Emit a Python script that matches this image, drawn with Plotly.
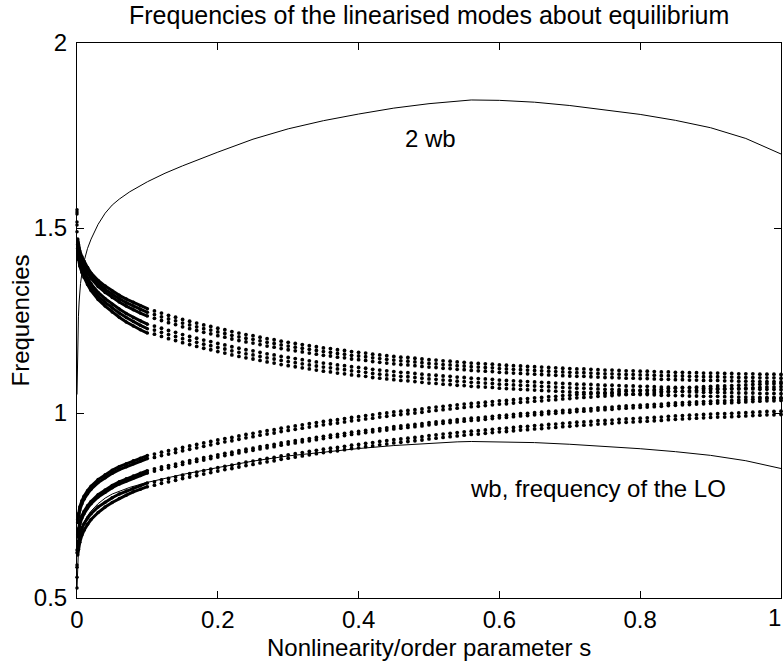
import plotly.graph_objects as go

# ---------------- data ----------------
x_ticks = [0, 0.2, 0.4, 0.6, 0.8, 1]
x_tick_labels = ["0", "0.2", "0.4", "0.6", "0.8", "1"]
y_ticks = [0.5, 1, 1.5, 2]
y_tick_labels = ["0.5", "1", "1.5", "2"]

# dense sampling near s = 0
s_dense = [0, 0.001, 0.002, 0.004, 0.007, 0.01, 0.015, 0.02, 0.03, 0.04, 0.05, 0.06, 0.07, 0.08, 0.09, 0.1]
# coarse sampling, step 0.01 from 0.11 to 1.00
s_coarse = [round(0.11 + 0.01 * i, 2) for i in range(90)]

# upper branch, dense part
U1_dense = [1.549, 1.470, 1.455, 1.438, 1.422, 1.410, 1.393, 1.378, 1.358, 1.343, 1.330, 1.318, 1.308, 1.299, 1.290, 1.282]
U2_dense = [1.543, 1.462, 1.448, 1.431, 1.415, 1.403, 1.386, 1.371, 1.350, 1.334, 1.321, 1.309, 1.298, 1.289, 1.280, 1.272]
U3_dense = [1.538, 1.456, 1.442, 1.425, 1.409, 1.396, 1.379, 1.364, 1.342, 1.326, 1.312, 1.300, 1.289, 1.279, 1.270, 1.262]
U4_dense = [1.516, 1.445, 1.430, 1.413, 1.396, 1.383, 1.365, 1.349, 1.326, 1.309, 1.294, 1.281, 1.269, 1.258, 1.249, 1.240]
U5_dense = [1.508, 1.438, 1.423, 1.405, 1.388, 1.375, 1.356, 1.340, 1.316, 1.299, 1.284, 1.270, 1.258, 1.247, 1.237, 1.228]
U6_dense = [1.490, 1.430, 1.415, 1.397, 1.380, 1.366, 1.347, 1.331, 1.307, 1.289, 1.273, 1.259, 1.246, 1.235, 1.225, 1.216]

# lower branch, dense part
L1_dense = [0.630, 0.712, 0.728, 0.746, 0.763, 0.775, 0.790, 0.802, 0.820, 0.833, 0.845, 0.855, 0.863, 0.871, 0.878, 0.885]
L2_dense = [0.622, 0.704, 0.720, 0.738, 0.755, 0.767, 0.782, 0.794, 0.812, 0.825, 0.837, 0.847, 0.855, 0.863, 0.870, 0.877]
L3_dense = [0.589, 0.671, 0.687, 0.705, 0.722, 0.734, 0.749, 0.761, 0.779, 0.792, 0.804, 0.814, 0.822, 0.830, 0.837, 0.844]
L4_dense = [0.583, 0.665, 0.681, 0.699, 0.716, 0.728, 0.743, 0.755, 0.773, 0.786, 0.798, 0.808, 0.816, 0.824, 0.831, 0.838]
L5_dense = [0.556, 0.638, 0.654, 0.672, 0.689, 0.701, 0.716, 0.728, 0.746, 0.759, 0.771, 0.781, 0.789, 0.797, 0.804, 0.811]
L6_dense = [0.527, 0.616, 0.632, 0.651, 0.670, 0.683, 0.699, 0.712, 0.731, 0.746, 0.758, 0.769, 0.778, 0.787, 0.794, 0.801]

# upper branch, coarse part
U1_coarse = [1.276, 1.270, 1.264, 1.259, 1.253, 1.248, 1.243, 1.238, 1.234, 1.229,
             1.225, 1.220, 1.216, 1.212, 1.209, 1.205, 1.201, 1.198, 1.194, 1.191,
             1.188, 1.185, 1.182, 1.179, 1.176, 1.174, 1.171, 1.169, 1.166, 1.164,
             1.162, 1.159, 1.157, 1.155, 1.153, 1.151, 1.150, 1.148, 1.146, 1.144,
             1.143, 1.141, 1.140, 1.138, 1.137, 1.135, 1.134, 1.133, 1.132, 1.130,
             1.129, 1.128, 1.127, 1.126, 1.125, 1.124, 1.123, 1.122, 1.121, 1.120,
             1.119, 1.119, 1.118, 1.117, 1.116, 1.116, 1.115, 1.114, 1.114, 1.113,
             1.113, 1.112, 1.111, 1.111, 1.110, 1.110, 1.109, 1.109, 1.108, 1.108,
             1.108, 1.107, 1.107, 1.106, 1.106, 1.106, 1.105, 1.105, 1.105, 1.104]
U2_coarse = [1.266, 1.260, 1.254, 1.249, 1.243, 1.238, 1.233, 1.228, 1.224, 1.219,
             1.215, 1.210, 1.206, 1.202, 1.199, 1.195, 1.191, 1.188, 1.184, 1.181,
             1.178, 1.175, 1.172, 1.169, 1.166, 1.164, 1.161, 1.159, 1.156, 1.154,
             1.152, 1.149, 1.147, 1.145, 1.143, 1.141, 1.140, 1.138, 1.136, 1.134,
             1.133, 1.131, 1.130, 1.128, 1.127, 1.125, 1.124, 1.123, 1.122, 1.120,
             1.119, 1.118, 1.117, 1.116, 1.115, 1.114, 1.113, 1.112, 1.111, 1.110,
             1.109, 1.109, 1.108, 1.107, 1.106, 1.106, 1.105, 1.104, 1.104, 1.103,
             1.103, 1.102, 1.101, 1.101, 1.100, 1.100, 1.099, 1.099, 1.098, 1.098,
             1.098, 1.097, 1.097, 1.096, 1.096, 1.096, 1.095, 1.095, 1.095, 1.094]
U3_coarse = [1.256, 1.250, 1.244, 1.239, 1.233, 1.228, 1.223, 1.218, 1.214, 1.209,
             1.205, 1.200, 1.196, 1.192, 1.189, 1.185, 1.181, 1.178, 1.174, 1.171,
             1.168, 1.165, 1.162, 1.159, 1.156, 1.154, 1.151, 1.149, 1.146, 1.144,
             1.142, 1.139, 1.137, 1.135, 1.133, 1.131, 1.130, 1.128, 1.126, 1.124,
             1.123, 1.121, 1.120, 1.118, 1.117, 1.115, 1.114, 1.113, 1.112, 1.110,
             1.109, 1.108, 1.107, 1.106, 1.105, 1.104, 1.103, 1.102, 1.101, 1.100,
             1.099, 1.099, 1.098, 1.097, 1.096, 1.096, 1.095, 1.094, 1.094, 1.093,
             1.093, 1.092, 1.091, 1.091, 1.090, 1.090, 1.089, 1.089, 1.088, 1.088,
             1.088, 1.087, 1.087, 1.086, 1.086, 1.086, 1.085, 1.085, 1.085, 1.084]
U4_coarse = [1.235, 1.229, 1.223, 1.218, 1.212, 1.207, 1.202, 1.197, 1.193, 1.188,
             1.184, 1.179, 1.175, 1.171, 1.168, 1.164, 1.160, 1.157, 1.153, 1.150,
             1.147, 1.144, 1.141, 1.138, 1.135, 1.133, 1.130, 1.128, 1.125, 1.123,
             1.121, 1.118, 1.116, 1.114, 1.112, 1.110, 1.109, 1.107, 1.105, 1.103,
             1.102, 1.100, 1.099, 1.097, 1.096, 1.094, 1.093, 1.092, 1.091, 1.089,
             1.088, 1.087, 1.086, 1.085, 1.084, 1.083, 1.082, 1.081, 1.080, 1.079,
             1.078, 1.078, 1.077, 1.076, 1.075, 1.075, 1.074, 1.073, 1.073, 1.072,
             1.072, 1.071, 1.070, 1.070, 1.069, 1.069, 1.068, 1.068, 1.067, 1.067,
             1.067, 1.066, 1.066, 1.065, 1.065, 1.065, 1.064, 1.064, 1.064, 1.063]
U5_coarse = [1.224, 1.218, 1.212, 1.207, 1.201, 1.196, 1.191, 1.186, 1.182, 1.177,
             1.173, 1.168, 1.164, 1.160, 1.157, 1.153, 1.149, 1.146, 1.142, 1.139,
             1.136, 1.133, 1.130, 1.127, 1.124, 1.122, 1.119, 1.117, 1.114, 1.112,
             1.110, 1.107, 1.105, 1.103, 1.101, 1.099, 1.098, 1.096, 1.094, 1.092,
             1.091, 1.089, 1.088, 1.086, 1.085, 1.083, 1.082, 1.081, 1.080, 1.078,
             1.077, 1.076, 1.075, 1.074, 1.073, 1.072, 1.071, 1.070, 1.069, 1.068,
             1.067, 1.067, 1.066, 1.065, 1.064, 1.064, 1.063, 1.062, 1.062, 1.061,
             1.061, 1.060, 1.059, 1.059, 1.058, 1.058, 1.057, 1.057, 1.056, 1.056,
             1.056, 1.055, 1.055, 1.054, 1.054, 1.054, 1.053, 1.053, 1.053, 1.052]
U6_coarse = [1.213, 1.207, 1.201, 1.196, 1.190, 1.185, 1.180, 1.175, 1.171, 1.166,
             1.162, 1.157, 1.153, 1.149, 1.146, 1.142, 1.138, 1.135, 1.131, 1.128,
             1.125, 1.122, 1.119, 1.116, 1.113, 1.111, 1.108, 1.106, 1.103, 1.101,
             1.099, 1.096, 1.094, 1.092, 1.090, 1.088, 1.087, 1.085, 1.083, 1.081,
             1.080, 1.078, 1.077, 1.075, 1.074, 1.072, 1.071, 1.070, 1.069, 1.067,
             1.066, 1.065, 1.064, 1.063, 1.062, 1.061, 1.060, 1.059, 1.058, 1.057,
             1.056, 1.056, 1.055, 1.054, 1.053, 1.053, 1.052, 1.051, 1.051, 1.050,
             1.050, 1.049, 1.048, 1.048, 1.047, 1.047, 1.046, 1.046, 1.045, 1.045,
             1.045, 1.044, 1.044, 1.043, 1.043, 1.043, 1.042, 1.042, 1.042, 1.041]

# lower branch, coarse part
L1_coarse = [0.889, 0.894, 0.898, 0.902, 0.907, 0.911, 0.915, 0.919, 0.923, 0.927,
             0.931, 0.934, 0.938, 0.942, 0.945, 0.949, 0.952, 0.955, 0.959, 0.962,
             0.965, 0.968, 0.971, 0.974, 0.977, 0.980, 0.982, 0.985, 0.988, 0.990,
             0.993, 0.995, 0.998, 1.000, 1.003, 1.005, 1.007, 1.009, 1.011, 1.014,
             1.016, 1.018, 1.020, 1.022, 1.024, 1.026, 1.027, 1.029, 1.031, 1.033,
             1.034, 1.036, 1.038, 1.039, 1.041, 1.042, 1.044, 1.045, 1.047, 1.048,
             1.050, 1.051, 1.052, 1.054, 1.055, 1.056, 1.058, 1.059, 1.060, 1.061,
             1.062, 1.063, 1.064, 1.066, 1.067, 1.068, 1.069, 1.070, 1.071, 1.072,
             1.073, 1.073, 1.074, 1.075, 1.076, 1.077, 1.078, 1.079, 1.079, 1.080]
L2_coarse = [0.880, 0.885, 0.889, 0.893, 0.898, 0.902, 0.906, 0.910, 0.914, 0.918,
             0.922, 0.925, 0.929, 0.933, 0.936, 0.940, 0.943, 0.946, 0.950, 0.953,
             0.956, 0.959, 0.962, 0.965, 0.968, 0.971, 0.973, 0.976, 0.979, 0.981,
             0.984, 0.986, 0.989, 0.991, 0.994, 0.996, 0.998, 1.000, 1.002, 1.005,
             1.007, 1.009, 1.011, 1.013, 1.015, 1.017, 1.018, 1.020, 1.022, 1.024,
             1.025, 1.027, 1.029, 1.030, 1.032, 1.033, 1.035, 1.036, 1.038, 1.039,
             1.041, 1.042, 1.043, 1.045, 1.046, 1.047, 1.049, 1.050, 1.051, 1.052,
             1.053, 1.054, 1.055, 1.057, 1.058, 1.059, 1.060, 1.061, 1.062, 1.063,
             1.064, 1.064, 1.065, 1.066, 1.067, 1.068, 1.069, 1.070, 1.070, 1.071]
L3_coarse = [0.849, 0.854, 0.858, 0.862, 0.867, 0.871, 0.875, 0.879, 0.883, 0.887,
             0.891, 0.894, 0.898, 0.902, 0.905, 0.909, 0.912, 0.915, 0.919, 0.922,
             0.925, 0.928, 0.931, 0.934, 0.937, 0.940, 0.942, 0.945, 0.948, 0.950,
             0.953, 0.955, 0.958, 0.960, 0.963, 0.965, 0.967, 0.969, 0.971, 0.974,
             0.976, 0.978, 0.980, 0.982, 0.984, 0.986, 0.987, 0.989, 0.991, 0.993,
             0.994, 0.996, 0.998, 0.999, 1.001, 1.002, 1.004, 1.005, 1.007, 1.008,
             1.010, 1.011, 1.012, 1.014, 1.015, 1.016, 1.018, 1.019, 1.020, 1.021,
             1.022, 1.023, 1.024, 1.026, 1.027, 1.028, 1.029, 1.030, 1.031, 1.032,
             1.033, 1.033, 1.034, 1.035, 1.036, 1.037, 1.038, 1.039, 1.039, 1.040]
L4_coarse = [0.843, 0.848, 0.852, 0.856, 0.861, 0.865, 0.869, 0.873, 0.877, 0.881,
             0.885, 0.888, 0.892, 0.896, 0.899, 0.903, 0.906, 0.909, 0.913, 0.916,
             0.919, 0.922, 0.925, 0.928, 0.931, 0.934, 0.936, 0.939, 0.942, 0.944,
             0.947, 0.949, 0.952, 0.954, 0.957, 0.959, 0.961, 0.963, 0.965, 0.968,
             0.970, 0.972, 0.974, 0.976, 0.978, 0.980, 0.981, 0.983, 0.985, 0.987,
             0.988, 0.990, 0.992, 0.993, 0.995, 0.996, 0.998, 0.999, 1.001, 1.002,
             1.004, 1.005, 1.006, 1.008, 1.009, 1.010, 1.012, 1.013, 1.014, 1.015,
             1.016, 1.017, 1.018, 1.020, 1.021, 1.022, 1.023, 1.024, 1.025, 1.026,
             1.027, 1.027, 1.028, 1.029, 1.030, 1.031, 1.032, 1.033, 1.033, 1.034]
L5_coarse = [0.814, 0.819, 0.823, 0.827, 0.832, 0.836, 0.840, 0.844, 0.848, 0.852,
             0.856, 0.859, 0.863, 0.867, 0.870, 0.874, 0.877, 0.880, 0.884, 0.887,
             0.890, 0.893, 0.896, 0.899, 0.902, 0.905, 0.907, 0.910, 0.913, 0.915,
             0.918, 0.920, 0.923, 0.925, 0.928, 0.930, 0.932, 0.934, 0.936, 0.939,
             0.941, 0.943, 0.945, 0.947, 0.949, 0.951, 0.952, 0.954, 0.956, 0.958,
             0.959, 0.961, 0.963, 0.964, 0.966, 0.967, 0.969, 0.970, 0.972, 0.973,
             0.975, 0.976, 0.977, 0.979, 0.980, 0.981, 0.983, 0.984, 0.985, 0.986,
             0.987, 0.988, 0.989, 0.991, 0.992, 0.993, 0.994, 0.995, 0.996, 0.997,
             0.998, 0.998, 0.999, 1.000, 1.001, 1.002, 1.003, 1.004, 1.004, 1.005]
L6_coarse = [0.805, 0.810, 0.814, 0.818, 0.823, 0.827, 0.831, 0.835, 0.839, 0.843,
             0.847, 0.850, 0.854, 0.858, 0.861, 0.865, 0.868, 0.871, 0.875, 0.878,
             0.881, 0.884, 0.887, 0.890, 0.893, 0.896, 0.898, 0.901, 0.904, 0.906,
             0.909, 0.911, 0.914, 0.916, 0.919, 0.921, 0.923, 0.925, 0.927, 0.930,
             0.932, 0.934, 0.936, 0.938, 0.940, 0.942, 0.943, 0.945, 0.947, 0.949,
             0.950, 0.952, 0.954, 0.955, 0.957, 0.958, 0.960, 0.961, 0.963, 0.964,
             0.966, 0.967, 0.968, 0.970, 0.971, 0.972, 0.974, 0.975, 0.976, 0.977,
             0.978, 0.979, 0.980, 0.982, 0.983, 0.984, 0.985, 0.986, 0.987, 0.988,
             0.989, 0.989, 0.990, 0.991, 0.992, 0.993, 0.994, 0.995, 0.995, 0.996]

# solid curves: wb and 2 wb
s_wb = [0, 0.0005, 0.001, 0.002, 0.003, 0.005, 0.0075, 0.01, 0.015, 0.02, 0.03, 0.04, 0.05, 0.06,
        0.075, 0.1, 0.125, 0.15, 0.2, 0.25, 0.3, 0.35, 0.4, 0.45, 0.5, 0.54, 0.56, 0.6, 0.65,
        0.7, 0.75, 0.8, 0.85, 0.9, 0.95, 1.0]
two_wb = [1.05, 1.16, 1.20, 1.26, 1.30, 1.35, 1.385, 1.41, 1.445, 1.47, 1.51, 1.54, 1.562, 1.578,
          1.598, 1.625, 1.648, 1.668, 1.705, 1.740, 1.768, 1.790, 1.808, 1.824, 1.836, 1.844, 1.846,
          1.845, 1.840, 1.831, 1.820, 1.807, 1.791, 1.771, 1.742, 1.700]
wb = [0.525, 0.58, 0.60, 0.63, 0.65, 0.675, 0.6925, 0.705, 0.7225, 0.735, 0.755, 0.77, 0.781, 0.789,
      0.799, 0.8125, 0.824, 0.834, 0.8525, 0.870, 0.884, 0.895, 0.904, 0.912, 0.918, 0.922, 0.923,
      0.9225, 0.920, 0.9155, 0.910, 0.9035, 0.8955, 0.8855, 0.871, 0.850]

label_2wb = "2 wb"
label_wb = "wb, frequency of the LO"
title_text = "Frequencies of the linearised modes about equilibrium"
x_title = "Nonlinearity/order parameter s"
y_title = "Frequencies"

# ---------------- figure ----------------
FONT = "Liberation Sans, Arial, Helvetica, sans-serif"
BLACK = "#000000"

dense_sets = [U1_dense, U2_dense, U3_dense, U4_dense, U5_dense, U6_dense,
              L1_dense, L2_dense, L3_dense, L4_dense, L5_dense, L6_dense]
coarse_sets = [U1_coarse, U2_coarse, U3_coarse, U4_coarse, U5_coarse, U6_coarse,
               L1_coarse, L2_coarse, L3_coarse, L4_coarse, L5_coarse, L6_coarse]

fig = go.Figure()

for yd in dense_sets:
    fig.add_trace(go.Scatter(
        x=[s_dense[0], None] + s_dense[1:], y=[yd[0], None] + yd[1:],
        mode="lines+markers", line=dict(color=BLACK, width=3),
        marker=dict(color=BLACK, size=3.5), cliponaxis=False,
        showlegend=False, hoverinfo="skip"))

for yc in coarse_sets:
    fig.add_trace(go.Scatter(
        x=s_coarse, y=yc, mode="markers",
        marker=dict(color=BLACK, size=3.8), cliponaxis=False,
        showlegend=False, hoverinfo="skip"))

fig.add_trace(go.Scatter(x=s_wb, y=two_wb, mode="lines", line=dict(color=BLACK, width=1),
                         showlegend=False, hoverinfo="skip"))
fig.add_trace(go.Scatter(x=s_wb, y=wb, mode="lines", line=dict(color=BLACK, width=1),
                         showlegend=False, hoverinfo="skip"))

fig.add_annotation(x=0.463, y=1.742, text=label_2wb, showarrow=False,
                   xanchor="left", yanchor="middle", font=dict(size=24, color=BLACK, family=FONT))
fig.add_annotation(x=0.555, y=0.797, text=label_wb, showarrow=False,
                   xanchor="left", yanchor="middle", font=dict(size=24, color=BLACK, family=FONT))

# title and axis titles placed as annotations relative to the plot box
fig.add_annotation(x=0.5, xref="paper", y=1, yref="paper", yanchor="middle", yshift=28,
                   text=title_text, showarrow=False,
                   font=dict(size=25, color=BLACK, family=FONT))
fig.add_annotation(x=0.5, xref="paper", y=0, yref="paper", yanchor="middle", yshift=-49,
                   text=x_title, showarrow=False,
                   font=dict(size=24, color=BLACK, family=FONT))
fig.add_annotation(x=0, xref="paper", y=0.5, yref="paper", xanchor="center", xshift=-57,
                   text=y_title, textangle=-90, showarrow=False,
                   font=dict(size=24, color=BLACK, family=FONT))

# the last x tick label sits at the window edge: the axis shows ticks 0..0.8,
# and the label of the final tick is drawn right-aligned at that tick so it stays inside
fig.add_annotation(x=x_ticks[-1], xref="x", y=0, yref="paper", xanchor="right", yanchor="middle",
                   xshift=2, yshift=-19, text=x_tick_labels[-1], showarrow=False,
                   font=dict(size=24, color=BLACK, family=FONT))

axis_common = dict(showline=True, linecolor=BLACK, linewidth=1, mirror="ticks",
                   ticks="inside", ticklen=7, tickwidth=1, tickcolor=BLACK,
                   showgrid=False, zeroline=False, automargin=False,
                   tickfont=dict(size=24, color=BLACK, family=FONT))

fig.update_layout(
    width=783, height=664,
    margin=dict(l=77, r=2, t=43, b=66),
    paper_bgcolor="white", plot_bgcolor="white",
    font=dict(family=FONT, color=BLACK, size=24),
    xaxis=dict(range=[0, 1], tickvals=x_ticks, ticktext=x_tick_labels[:-1] + [""],
               ticklabelstandoff=0, **axis_common),
    yaxis=dict(range=[0.5, 2], tickvals=y_ticks, ticktext=y_tick_labels, ticklabelstandoff=4, **axis_common),
)

# remove the default page margin so the figure fills the window exactly
fig.write_html("out.html",
               config={"displayModeBar": False},
               post_script="document.body.style.margin='0';document.body.style.overflow='hidden';")
